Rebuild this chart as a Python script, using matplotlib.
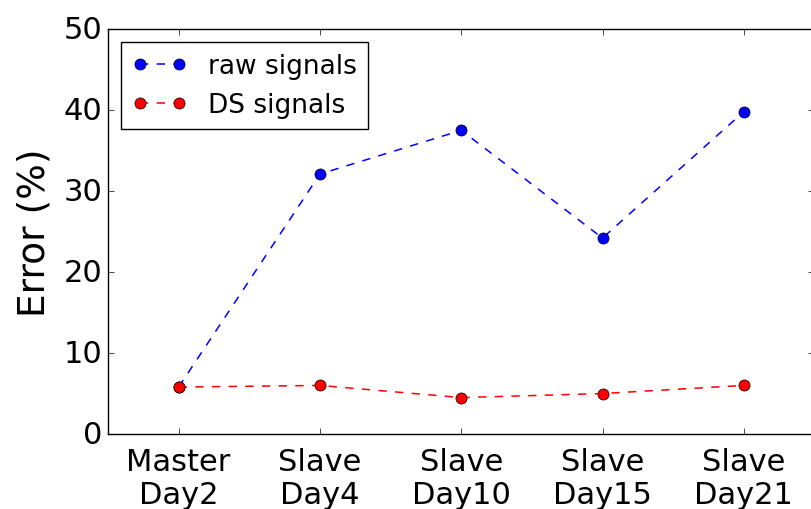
import matplotlib
matplotlib.use("Agg")
import matplotlib.pyplot as plt

categories = ["Master\nDay2", "Slave\nDay4", "Slave\nDay10", "Slave\nDay15", "Slave\nDay21"]
raw_signals = [5.8, 32.1, 37.5, 24.2, 39.8]
ds_signals = [5.8, 6.0, 4.5, 5.0, 6.0]

plt.style.use("classic")
fig = plt.figure(figsize=(8.12, 5.10), dpi=100)
fig.patch.set_facecolor("white")
ax = fig.add_axes([0.133, 0.147, 0.870, 0.794])
x = list(range(len(categories)))
ax.plot(x, raw_signals, "b--o", markersize=8, linewidth=1.1, label="raw signals")
ax.plot(x, ds_signals, "r--o", markersize=8, linewidth=1.1, label="DS signals")
ax.set_xlim(-0.5, 4.5)
ax.set_ylim(0, 50)
ax.set_xticks(x)
ax.set_xticklabels(categories, fontsize=22, linespacing=1.2)
ax.tick_params(axis="x", pad=9)
ax.set_yticks([0, 10, 20, 30, 40, 50])
ax.tick_params(axis="y", labelsize=22)
ax.set_ylabel("Error (%)", fontsize=27, labelpad=8)
ax.legend(loc="upper left", fontsize=19, numpoints=2, fancybox=False,
          borderaxespad=0.5, handlelength=2.1)
fig.savefig("out.png", dpi=100, facecolor="white")
